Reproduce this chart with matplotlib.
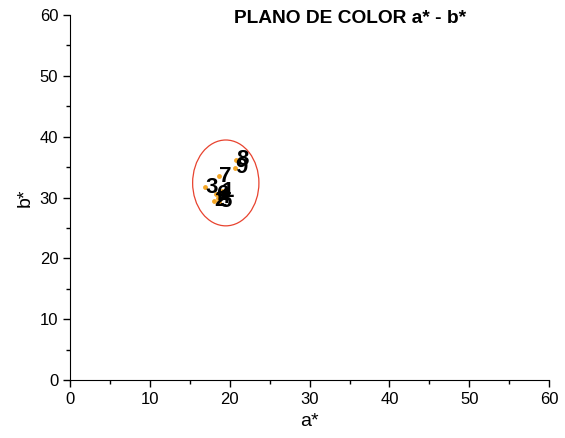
import numpy as np
import matplotlib.pyplot as plt
from matplotlib.patches import Ellipse
from matplotlib.ticker import MultipleLocator

plt.rcParams['font.family'] = ['Liberation Sans', 'DejaVu Sans']

labels = ["1", "2", "3", "4", "5", "6", "7", "8", "9"]
a_star = [19.0, 18.0, 16.9, 18.5, 18.7, 18.3, 18.7, 20.8, 20.7]
b_star = [31.0, 29.5, 31.7, 30.0, 29.3, 30.5, 33.5, 36.2, 34.9]

ell_center = (19.5, 32.4)
ell_w = 8.3
ell_h = 14.1


def main():
    fig = plt.figure(figsize=(5.65, 4.38), dpi=100)
    ax = fig.add_axes([0.124, 0.132, 0.848, 0.834])

    ax.scatter(a_star, b_star, s=6, color="#f5a623", zorder=2)
    for lab, x, y in zip(labels, a_star, b_star):
        ax.text(x, y, lab, fontsize=16, fontweight="bold", color="black",
                ha="left", va="center", zorder=3)

    ax.add_patch(Ellipse(ell_center, ell_w, ell_h, fill=False,
                         edgecolor="#e8432f", lw=0.9))

    ax.set_xlim(0, 60)
    ax.set_ylim(0, 60)
    ax.xaxis.set_major_locator(MultipleLocator(10))
    ax.xaxis.set_minor_locator(MultipleLocator(5))
    ax.yaxis.set_major_locator(MultipleLocator(10))
    ax.yaxis.set_minor_locator(MultipleLocator(5))
    ax.tick_params(which="both", direction="out", labelsize=12, width=1)
    ax.tick_params(which="major", length=5)
    ax.tick_params(which="minor", length=3)
    ax.spines["top"].set_visible(False)
    ax.spines["right"].set_visible(False)

    ax.set_xlabel("a*", fontsize=14)
    ax.set_ylabel("b*", fontsize=14)
    fig.text(0.62, 0.958, "PLANO DE COLOR a* - b*", fontsize=13.8,
             fontweight="bold", ha="center", va="center")

    fig.savefig("out.png", dpi=100)


if __name__ == "__main__":
    main()
